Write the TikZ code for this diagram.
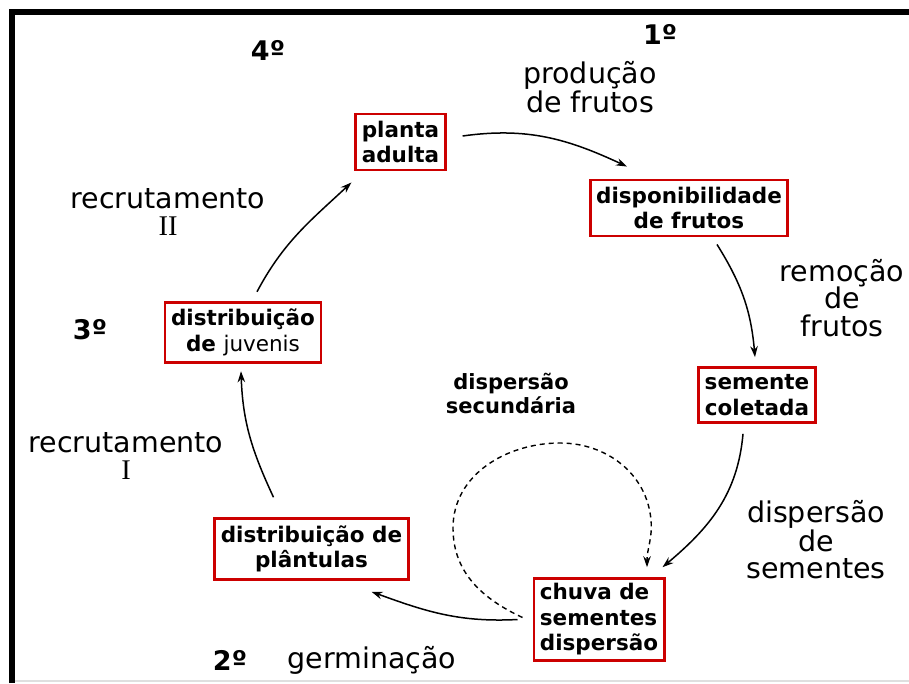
\documentclass[tikz,border=0pt]{standalone}
\usepackage{fontspec}
\setmainfont{DejaVu Sans}
\newfontfamily\romfont{Liberation Serif}
\usetikzlibrary{arrows.meta}

\tikzset{
  caixa/.style={draw=red!80!black, line width=2.8pt, fill=white, align=center,
    inner xsep=6pt, inner ysep=7pt, font=\fontsize{21.5}{25.5}\selectfont\bfseries},
  rotulo/.style={align=center, font=\fontsize{28.5}{27.5}\selectfont},
  ordem/.style={font=\fontsize{27}{28}\selectfont\bfseries},
  liga/.style={->, line width=1.5pt},
  volta/.style={->, line width=1.4pt, dash pattern=on 5pt off 4pt}
}

\begin{document}
\begin{tikzpicture}[x=1pt,y=1pt,>={Stealth[length=11pt,width=7.5pt]}]
  \useasboundingbox (0,0) rectangle (909,-683);
  % moldura
  \draw[gray!25, line width=1.5pt] (15,-681) -- (909,-681);
  \draw[line width=6pt] (12,-683) -- (12,-12) -- (909,-12);

  % caixas do ciclo
  \node[caixa] (planta)    at (400.5,-142) {planta\\adulta};
  \node[caixa] (frutos)    at (689,-208)   {disponibilidade\\de frutos};
  \node[caixa] (semente)   at (757,-395)   {semente\\coletada};
  \node[caixa, align=left, inner ysep=5pt] (chuva) at (599,-619.5) {chuva de\\sementes\\dispersão};
  \node[caixa] (plantulas) at (311.5,-549) {distribuição de\\plântulas};
  \node[caixa] (juvenis)   at (243,-332.5) {distribuição\\de {\mdseries juvenis}};

  % etapas
  \node[ordem] (um)     at (660,-34)  {1º};
  \node[ordem] (dois)   at (230,-660) {2º};
  \node[ordem] (tres)   at (90,-330)  {3º};
  \node[ordem] (quatro) at (268,-50)  {4º};

  % processos
  \node[rotulo] (producao) at (590,-87)  {produção\\de frutos};
  \node[rotulo] (remocao)  at (842,-298) {remoção\\de\\frutos};
  \node[rotulo] (dispsem)  at (816,-540) {dispersão\\de\\sementes};
  \node[rotulo] (germ)     at (372,-660) {germinação};
  \node[rotulo] (recII)    at (168,-212) {recrutamento\\{\romfont II}};
  \node[rotulo] (recI)     at (126,-456) {recrutamento\\{\romfont I}};
  \node[caixa, draw=none, fill=none, font=\fontsize{21}{24}\selectfont\bfseries]
    (secund) at (511,-393) {dispersão\\secundária};

  \path[liga]
    ([xshift=16pt,yshift=6pt]planta.east) edge[out=8,in=155] ([xshift=-62pt,yshift=12pt]frutos.north)
    ([xshift=28pt,yshift=-7pt]frutos.south) edge[out=-58,in=95] ([xshift=-2pt,yshift=9pt]semente.north)
    ([xshift=-14pt,yshift=-10pt]semente.south) edge[out=-95,in=40] ([xshift=-3pt,yshift=10pt]chuva.north east)
    ([xshift=-15pt]chuva.west) edge[out=183,in=-20] ([xshift=60pt,yshift=-11pt]plantulas.south)
    ([xshift=-38pt,yshift=20pt]plantulas.north) edge[out=115,in=-88] ([xshift=-2pt,yshift=-7pt]juvenis.south)
    ([xshift=14pt,yshift=9pt]juvenis.north) edge[out=62,in=-137] ([xshift=-3pt,yshift=-11pt]planta.south west);

  \draw[volta] ([xshift=-10pt,yshift=2pt]chuva.west) to[out=155,in=-90] (453,-528)
    to[out=90,in=180] (560,-443) to[out=0,in=95] (651,-520)
    to[out=-85,in=90] ([xshift=48pt,yshift=10pt]chuva.north);
\end{tikzpicture}
\end{document}
